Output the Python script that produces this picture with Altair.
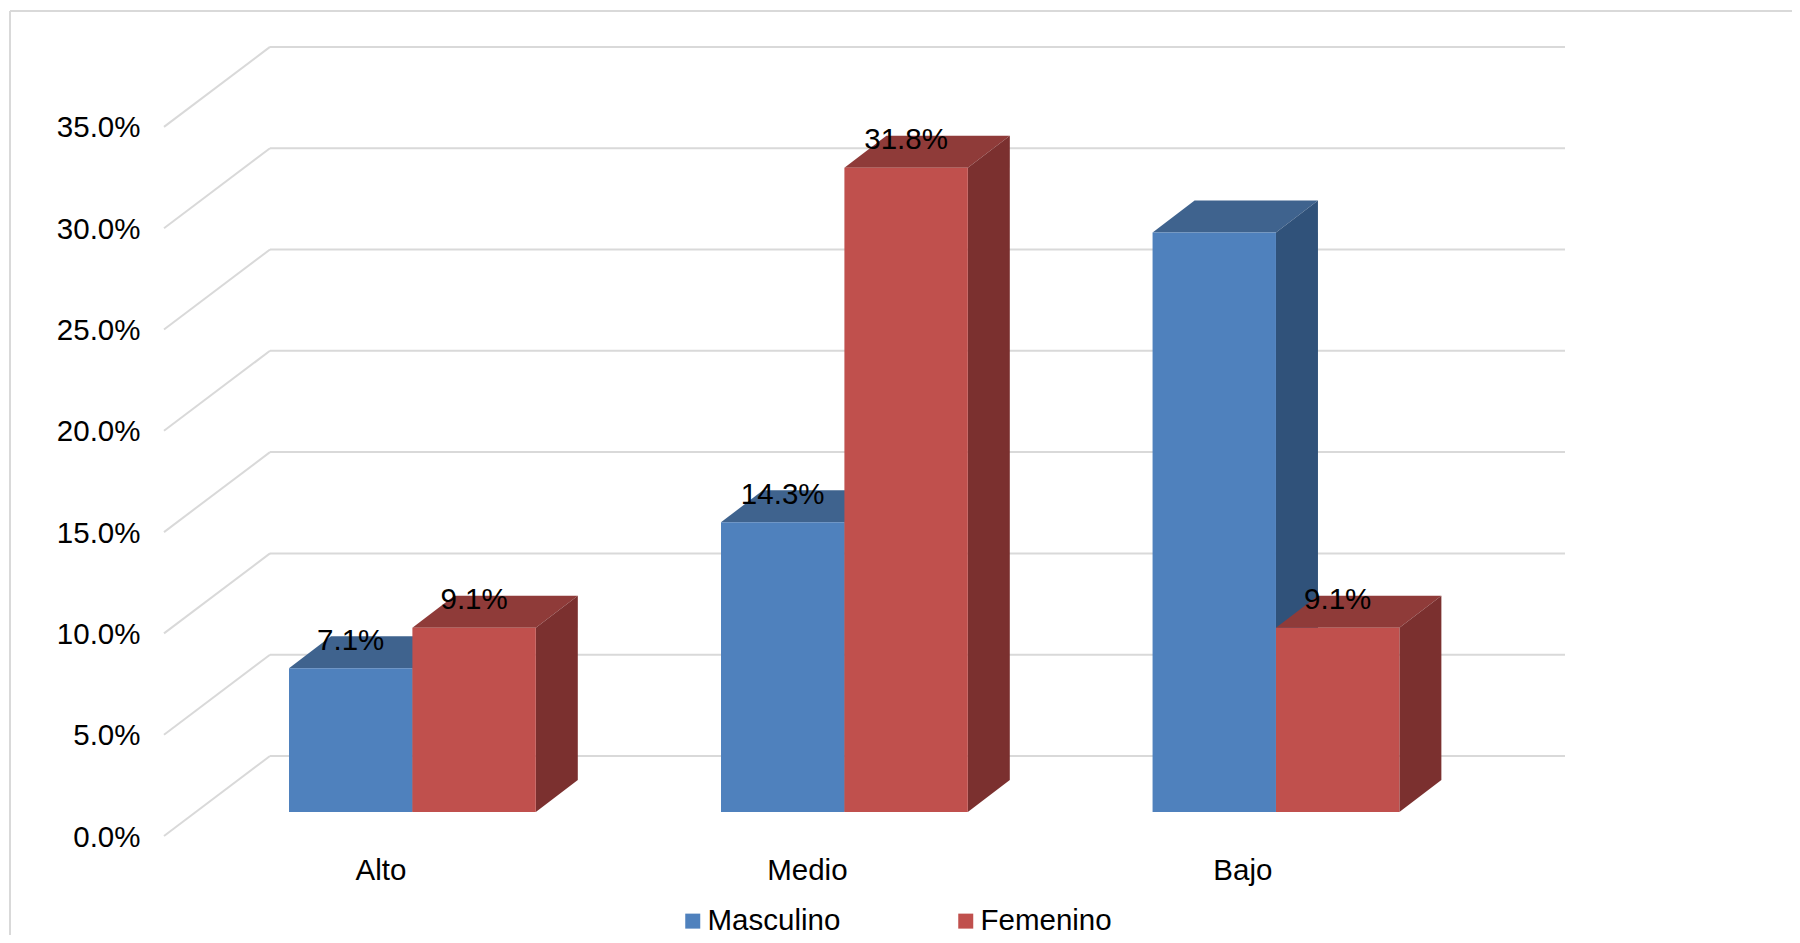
import altair as alt
import pandas as pd

categories = ["Alto", "Medio", "Bajo"]
category_pos = [0, 1, 1.999]
series = ["Masculino", "Femenino"]
masculino = [7.1, 14.3, 28.6]
femenino = [9.1, 31.8, 9.1]
shown_labels = {"Masculino": [True, True, False], "Femenino": [True, True, True]}
ticks = [0, 5, 10, 15, 20, 25, 30, 35]
category_label_x = [0.213, 1.2, 2.208]  # label centres, in category slots

FONT = "Liberation Sans"
FS = 29.5
W, H = 1784, 927
PX_PER_SLOT = 432.0
PX_PER_UNIT = 20.26
BAR_W = 123.4 / PX_PER_SLOT
DX = 42 / PX_PER_SLOT
DY = 32 / PX_PER_UNIT
BASE = 24 / PX_PER_UNIT
WALL_DX = 106 / PX_PER_SLOT
WALL_DY = 80 / PX_PER_UNIT
FRONT_X = -125 / PX_PER_SLOT
WALL_END = 1557
X0_PX, Y0_PX = 281, 828

x_scale = alt.Scale(domain=[-X0_PX / PX_PER_SLOT, (W - X0_PX) / PX_PER_SLOT], range=[0, W], nice=False, zero=False)
y_scale = alt.Scale(domain=[(Y0_PX - H) / PX_PER_UNIT, Y0_PX / PX_PER_UNIT], range=[H, 0], nice=False, zero=False)
color_scale = alt.Scale(domain=series, range=["#4F81BD", "#C0504D"])
top_colors = {"Masculino": "#3F638E", "Femenino": "#8F3B39"}
side_colors = {"Masculino": "#30527A", "Femenino": "#7B302F"}
GRID = "#D9D9D9"

y_axis = alt.Axis(
    values=ticks, domain=False, ticks=False, grid=False, title=None, labelFont=FONT, labelFontSize=FS,
    labelColor="#000000", labelPadding=0, labelOffset=1, offset=-132, labelExpr="format(datum.value,'.1f')+'%'")

X = lambda f: alt.X(f, type="quantitative", scale=x_scale, axis=None)
Y = lambda f: alt.Y(f, type="quantitative", scale=y_scale, axis=y_axis, stack=None)

fronts, tops, sides, labels = [], [], [], []
for j, (name, vals) in enumerate(zip(series, [masculino, femenino])):
    for i, v in enumerate(vals):
        a = category_pos[i] + j * BAR_W
        b = a + BAR_W
        t = BASE + v
        bid = f"{name}-{i}"
        fronts.append(dict(s=name, x=a, x2=b, y=BASE, y2=t))
        tops += [dict(s=name, id=bid, y=t, x=a, x2=b), dict(s=name, id=bid, y=t + DY, x=a + DX, x2=b + DX)]
        sides += [dict(s=name, id=bid, x=b, y=t, y2=BASE), dict(s=name, id=bid, x=b + DX, y=t + DY, y2=BASE + DY)]
        if shown_labels[name][i]:
            labels.append(dict(x=(a + b) / 2, y=t + 27.5 / PX_PER_UNIT, t=f"{v:.1f}%"))

fronts, tops, sides = pd.DataFrame(fronts), pd.DataFrame(tops), pd.DataFrame(sides)

wall = pd.DataFrame([dict(x=FRONT_X + WALL_DX, x2=(WALL_END - X0_PX) / PX_PER_SLOT, y=t + WALL_DY) for t in ticks])
diag = pd.DataFrame(
    [dict(t=t, x=FRONT_X, y=t) for t in ticks] + [dict(t=t, x=FRONT_X + WALL_DX, y=t + WALL_DY) for t in ticks]
)
cat_df = pd.DataFrame(dict(c=categories, x=category_label_x, y=[-1.74] * 3))

layers = [
    alt.Chart(pd.DataFrame(dict(a=[0]))).mark_rule(color=GRID, strokeWidth=2).encode(
        x=alt.value(2), y=alt.value(3), y2=alt.value(H)),
    alt.Chart(pd.DataFrame(dict(a=[0]))).mark_rule(color=GRID, strokeWidth=2).encode(
        x=alt.value(2), x2=alt.value(W), y=alt.value(3)),
    alt.Chart(diag).mark_line(color=GRID, strokeWidth=2).encode(x=X("x"), y=Y("y"), detail="t:N"),
    alt.Chart(wall).mark_rule(color=GRID, strokeWidth=2).encode(x=X("x"), x2="x2", y=Y("y")),
]

for name in series:
    layers += [
        alt.Chart(tops[tops.s == name]).mark_area(orient="horizontal", color=top_colors[name]).encode(
            y=Y("y"), x=X("x"), x2="x2", detail="id:N"),
        alt.Chart(sides[sides.s == name]).mark_area(orient="vertical", color=side_colors[name]).encode(
            x=X("x"), y=Y("y"), y2="y2", detail="id:N"),
        alt.Chart(fronts[fronts.s == name]).mark_rect().encode(
            x=X("x"), x2="x2", y=Y("y"), y2="y2",
            color=alt.Color("s:N", scale=color_scale, legend=alt.Legend(
                title=None, orient="none", legendX=670, legendY=898, direction="horizontal", columns=2,
                symbolType="square", symbolSize=225, symbolStrokeWidth=0, labelFont=FONT, labelFontSize=FS,
                labelColor="#000000", labelOffset=0, columnPadding=110, labelLimit=300)),
        ),
    ]

layers += [
    alt.Chart(pd.DataFrame(labels)).mark_text(font=FONT, fontSize=FS, color="#000000", baseline="middle", align="center").encode(
        x=X("x"), y=Y("y"), text="t:N"),
    alt.Chart(cat_df).mark_text(font=FONT, fontSize=FS, color="#000000", baseline="middle", align="center").encode(
        x=X("x"), y=Y("y"), text="c:N"),
]

chart = alt.layer(*layers).properties(
    width=W, height=H, padding=0, autosize=alt.AutoSizeParams(type="none"), background="#FFFFFF"
).configure_view(stroke=None)

chart.save("out.html", embed_options={"renderer": "svg", "actions": False})
